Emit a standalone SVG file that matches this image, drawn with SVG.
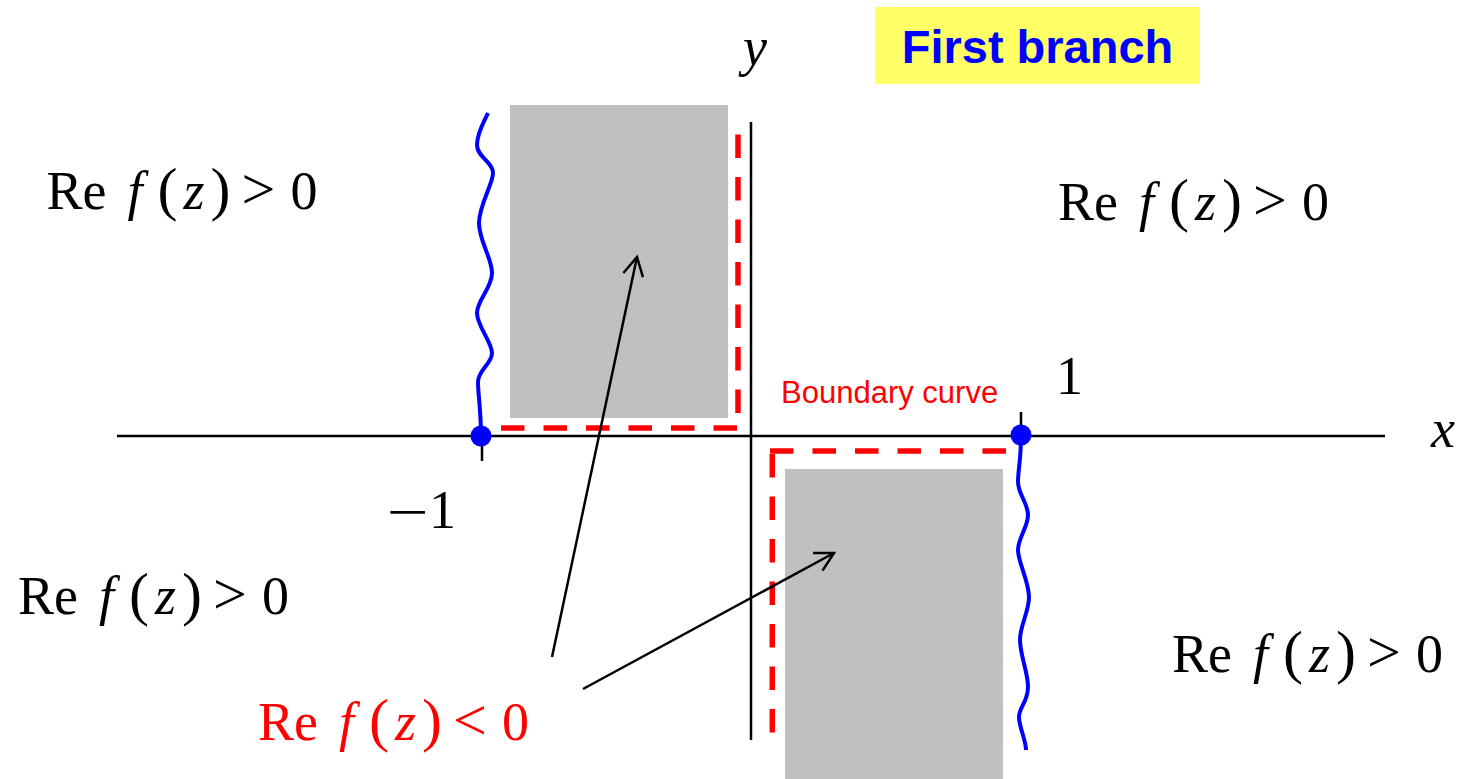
<svg xmlns="http://www.w3.org/2000/svg" width="1468" height="779" viewBox="0 0 1468 779">
<style>
.m{font-family:"Liberation Serif","Times New Roman",serif;font-size:54px;fill:#000}
.i{font-style:italic}
.p{font-size:60px}
.red{fill:#FF0000}
.ax{stroke:#000;stroke-width:2.5;fill:none}
.dash{stroke:#FF0000;stroke-width:5.5;stroke-dasharray:23.5 19;fill:none}
.wave{stroke:#0000FF;stroke-width:4;fill:none}
.gray{fill:#C0C0C0}
.ptr{stroke:#000;stroke-width:2.5;fill:none;marker-end:url(#open)}
</style>
<defs>
<marker id="open" markerUnits="userSpaceOnUse" viewBox="-2 -12 24 24" refX="18.5" refY="0" markerWidth="24" markerHeight="24" orient="auto">
<path d="M0,-10 L18.5,0 L0,10" fill="none" stroke="#000" stroke-width="2.5"/>
</marker>
</defs>
<rect width="1468" height="779" fill="#fff"/>

<g id="regions">
<rect class="gray" x="510" y="105" width="218" height="313"/>
<rect class="gray" x="785" y="469" width="218" height="310"/>
</g>

<g id="axes">
<line class="ax" x1="117" y1="436" x2="1385" y2="436"/>
<line class="ax" x1="751" y1="122" x2="751" y2="740"/>
<line class="ax" x1="482" y1="436" x2="482" y2="461"/>
<line class="ax" x1="1021" y1="412" x2="1021" y2="436"/>
<text class="m i" x="743" y="65">y</text>
<text class="m i" x="1431" y="447">x</text>
<text class="m" x="1056" y="394">1</text>
<text class="m" x="386.5" y="530" textLength="42" lengthAdjust="spacingAndGlyphs">−</text>
<text class="m" x="429" y="528">1</text>
</g>

<g id="boundary">
<path class="dash" d="M501,428 H738"/>
<path class="dash" d="M738,413 V132"/>
<path class="dash" d="M770,451 H1008"/>
<path class="dash" d="M772.3,454 V751"/>
<text x="781" y="402.5" font-family="Liberation Sans, Arial, sans-serif" font-size="31" fill="#FF0000">Boundary curve</text>
</g>

<g id="branch-cuts">
<path class="wave" d="M488,113 C484,122 477,133 477,145 S493,162 493,173 S479,205 479,223 S492,258 492,273 S477,300 477,313 S492,342 492,353 S478,370 478,382 S481,410 481,436"/>
<path class="wave" d="M1021,436 C1021,460 1018,470 1018,482 S1028,503 1028,515 S1018,538 1018,550 S1029,582 1029,597 S1020,625 1020,640 S1028,672 1028,687 S1019,707 1019,717 S1026,740 1026,750"/>
<circle cx="481" cy="436" r="10.5" fill="#0000FF"/>
<circle cx="1021" cy="435" r="10.5" fill="#0000FF"/>
</g>

<g id="title">
<rect x="875" y="7" width="325" height="77" fill="#FFFF66"/>
<text x="1037.5" y="63" text-anchor="middle" font-family="Liberation Sans, Arial, sans-serif" font-weight="bold" font-size="47" fill="#0000FF">First branch</text>
</g>

<g id="label-tl" transform="translate(46.5,209)">
<text class="m"><tspan x="0">Re</tspan><tspan x="81" class="i">f</tspan><tspan x="111" class="p">(</tspan><tspan x="137" class="i">z</tspan><tspan x="164" class="p">)</tspan><tspan x="195" class="p">&gt;</tspan><tspan x="244">0</tspan></text>
</g>
<g id="label-tr" transform="translate(1058,220)">
<text class="m"><tspan x="0">Re</tspan><tspan x="81" class="i">f</tspan><tspan x="111" class="p">(</tspan><tspan x="137" class="i">z</tspan><tspan x="164" class="p">)</tspan><tspan x="195" class="p">&gt;</tspan><tspan x="244">0</tspan></text>
</g>
<g id="label-ml" transform="translate(18,614)">
<text class="m"><tspan x="0">Re</tspan><tspan x="81" class="i">f</tspan><tspan x="111" class="p">(</tspan><tspan x="137" class="i">z</tspan><tspan x="164" class="p">)</tspan><tspan x="195" class="p">&gt;</tspan><tspan x="244">0</tspan></text>
</g>
<g id="label-br" transform="translate(1172,672)">
<text class="m"><tspan x="0">Re</tspan><tspan x="81" class="i">f</tspan><tspan x="111" class="p">(</tspan><tspan x="137" class="i">z</tspan><tspan x="164" class="p">)</tspan><tspan x="195" class="p">&gt;</tspan><tspan x="244">0</tspan></text>
</g>
<g id="label-neg" transform="translate(258,740)">
<text class="m red"><tspan x="0">Re</tspan><tspan x="81" class="i">f</tspan><tspan x="111" class="p">(</tspan><tspan x="137" class="i">z</tspan><tspan x="164" class="p">)</tspan><tspan x="195" class="p">&lt;</tspan><tspan x="244">0</tspan></text>
</g>

<g id="connectors">
<line class="ptr" x1="552" y1="657" x2="637" y2="257"/>
<line class="ptr" x1="583" y1="689" x2="834" y2="553"/>
</g>
</svg>
